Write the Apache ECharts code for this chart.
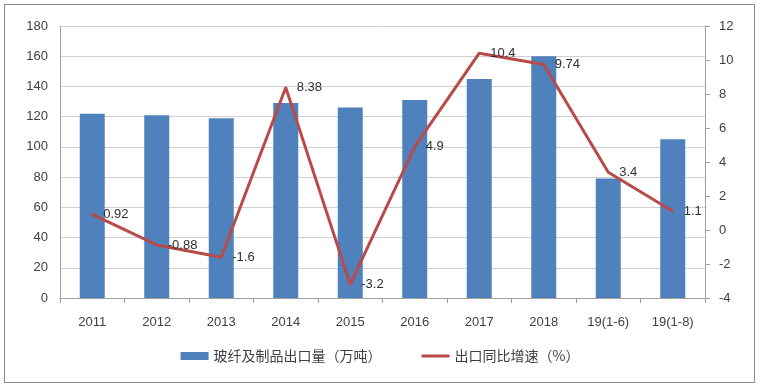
<!DOCTYPE html>
<html><head><meta charset="utf-8">
<script src="https://cdn.jsdelivr.net/npm/echarts@6/dist/echarts.min.js"></script>
<style>html,body{margin:0;padding:0;background:#fff}#c{width:760px;height:392px}
#frame{position:absolute;left:4px;top:4px;width:751px;height:379px;border:1px solid #8a8a8a;box-sizing:border-box;pointer-events:none}</style>
</head><body><div id="c"></div><div id="frame"></div>
<script>
const categories = ['2011','2012','2013','2014','2015','2016','2017','2018','19(1-6)','19(1-8)'];
const exportVolume = [122, 121, 119, 129, 126, 131, 145, 160, 79, 105];
const growthRate = [0.92, -0.88, -1.6, 8.38, -3.2, 4.9, 10.4, 9.74, 3.4, 1.1];
const leftTicks = {min: 0, max: 180, interval: 20};
const rightTicks = {min: -4, max: 12, interval: 2};
const volumeName = '玻纤及制品出口量（万吨）';
const rateName = '出口同比增速（%）';

const chart = echarts.init(document.getElementById('c'));
const font = '"Liberation Sans", "Noto Sans CJK SC", sans-serif';
const lineColor = '#B84A4A';
chart.setOption({
  animation: false,
  textStyle: {fontFamily: font},
  grid: {left: 60, right: 55, top: 26, bottom: 94},
  legend: {
    bottom: 24, left: 'center', itemGap: 40, itemWidth: 28, itemHeight: 8,
    textStyle: {fontSize: 14, color: '#404040', fontFamily: '"Noto Sans CJK SC", sans-serif'},
    data: [
      {name: volumeName, icon: 'rect'},
      {name: rateName, icon: 'path://M0,0 L28,0 L28,3 L0,3 Z', itemStyle: {color: lineColor}}
    ]
  },
  xAxis: {
    type: 'category', data: categories,
    axisLine: {lineStyle: {color: '#a0a0a0'}},
    axisTick: {show: true, alignWithLabel: false, lineStyle: {color: '#a0a0a0'}},
    axisLabel: {color: '#404040', fontSize: 13, margin: 18}
  },
  yAxis: [{
    type: 'value', min: leftTicks.min, max: leftTicks.max, interval: leftTicks.interval,
    axisLine: {show: true, lineStyle: {color: '#a0a0a0'}},
    axisTick: {show: false},
    axisLabel: {color: '#404040', fontSize: 13, margin: 12},
    splitLine: {lineStyle: {color: '#d0d0d0'}}
  }, {
    type: 'value', min: rightTicks.min, max: rightTicks.max, interval: rightTicks.interval,
    axisLine: {show: true, lineStyle: {color: '#a0a0a0'}},
    axisTick: {show: true, inside: false, length: 5, lineStyle: {color: '#a0a0a0'}},
    axisLabel: {color: '#404040', fontSize: 13, margin: 14},
    splitLine: {show: false}
  }],
  series: [{
    name: volumeName, type: 'bar', data: exportVolume, barWidth: 25,
    itemStyle: {color: '#4F81BD'}
  }, {
    name: rateName, type: 'line', yAxisIndex: 1, data: growthRate,
    symbol: 'circle', symbolSize: 2, showSymbol: true,
    lineStyle: {color: lineColor, width: 3}, itemStyle: {color: lineColor},
    label: {show: true, position: 'right', color: '#303030', fontSize: 13, distance: 10}
  }]
});
</script></body></html>
